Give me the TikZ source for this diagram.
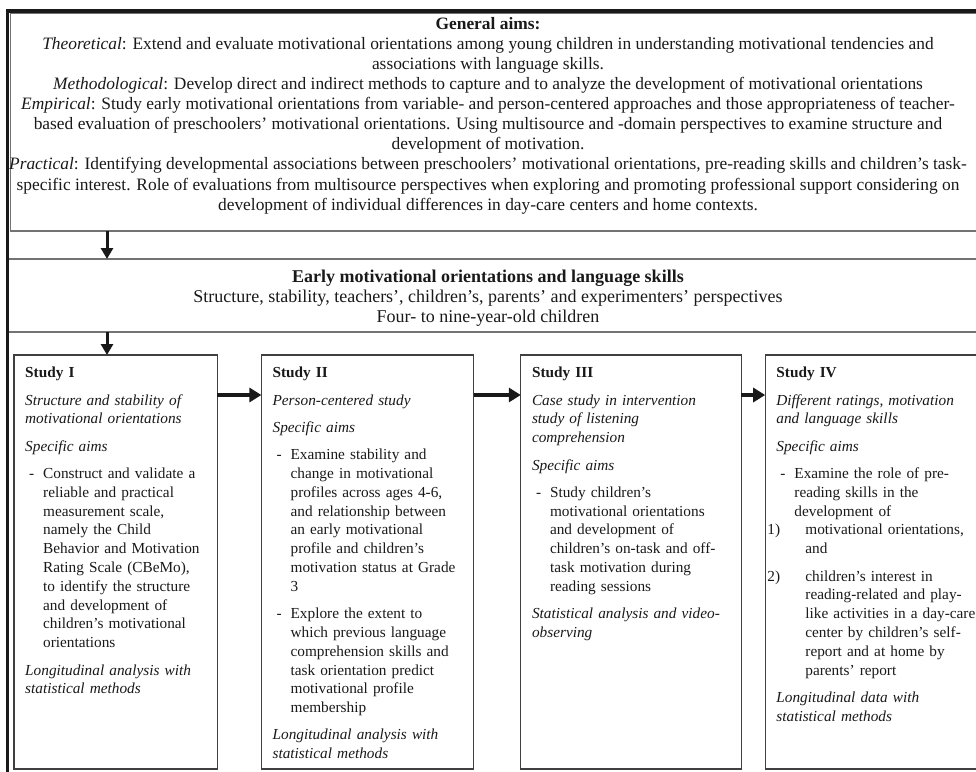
\documentclass[tikz,border=0pt]{standalone}
\usepackage{fontspec}
\setmainfont{Liberation Serif}
\usetikzlibrary{arrows.meta}
\usetikzlibrary{positioning}
\tikzset{
	aimstext/.style={align=center, inner sep=0pt, anchor=north, text=black!90, font=\fontsize{17.4}{20.1}\selectfont},
	studytext/.style={anchor=north west, text width=#1, inner xsep=11pt, inner ysep=12pt, text=black!90,
		font=\fontsize{15.3}{18.8}\selectfont,
		execute at begin node={\setlength{\parskip}{8.5pt}\setlength{\parindent}{0pt}\rightskip=-30pt plus 1fil\relax}},
	studybox/.style={draw=black!75, line width=1.3pt},
	thinrule/.style={draw=black!55, line width=1.3pt},
	thickrule/.style={draw=black!90, line width=3.5pt, line join=miter},
	downarrow/.style={-{Triangle[width=12pt,length=11pt]}, line width=3pt, draw=black!90, fill=black!90},
	sidearrow/.style={-{Triangle[width=14pt,length=12pt]}, line width=4.5pt, draw=black!90, fill=black!90}
}
\newcommand{\dashitem}[1]{\par\hangindent=18pt\hangafter=1\noindent\makebox[18pt][l]{\hspace{4pt}-}#1\par}
\newcommand{\numitem}[2]{\par\hangindent=29pt\hangafter=1\noindent\hspace*{-9pt}\makebox[38pt][l]{#1}#2\par}

\begin{document}
\begin{tikzpicture}[x=1pt,y=-1pt]
	\useasboundingbox (0,0) rectangle (976,771);
	\clip (0,0) rectangle (976,771);
	% frame and rules
	\draw[thickrule] (990,11) -- (7.5,11) -- (7.5,790);
	\draw[thinrule] (990,13.8) -- (10.8,13.8) -- (10.8,231) -- (990,231);
	\draw[thinrule] (9,259) -- (990,259);
	\draw[thinrule] (9,332) -- (990,332);
	\coordinate (aimsfoot) at (107,231);
	\coordinate (earlyhead) at (107,259);
	\coordinate (earlyfoot) at (107,332);
	\coordinate (floor) at (0,769);
	% general aims
	\node[aimstext] (aims) at (488,17) {\textbf{General aims:}\\
		\textit{Theoretical}: Extend and evaluate motivational orientations among young children in understanding motivational tendencies and\\
		associations with language skills.\\
		\textit{Methodological}: Develop direct and indirect methods to capture and to analyze the development of motivational orientations\\
		\textit{Empirical}: Study early motivational orientations from variable- and person-centered approaches and those appropriateness of teacher-\\
		based evaluation of preschoolers’ motivational orientations. Using multisource and -domain perspectives to examine structure and\\
		development of motivation.\\
		\textit{Practical}: Identifying developmental associations between preschoolers’ motivational orientations, pre-reading skills and children’s task-\\
		specific interest. Role of evaluations from multisource perspectives when exploring and promoting professional support considering on\\
		development of individual differences in day-care centers and home contexts.};
	\node[aimstext, font=\fontsize{18}{20.1}\selectfont] (early) at (488,270) {\textbf{Early motivational orientations and language skills}\\
		Structure, stability, teachers’, children’s, parents’ and experimenters’ perspectives\\
		Four- to nine-year-old children};
	% studies
	\node[studytext=181pt] (s1) at (14,355) {\textbf{Study I}\par
		\textit{Structure and stability of\newline motivational orientations}\par
		\textit{Specific aims}
		\dashitem{Construct and validate a\newline reliable and practical\newline measurement scale,\newline namely the Child\newline Behavior and Motivation\newline Rating Scale (CBeMo),\newline to identify the structure\newline and development of\newline children’s motivational\newline orientations}
		\textit{Longitudinal analysis with\newline statistical methods}};
	\node[studytext=190pt, right=44pt of s1.north east, anchor=north west] (s2) {\textbf{Study II}\par
		\textit{Person-centered study}\par
		\textit{Specific aims}
		\dashitem{Examine stability and\newline change in motivational\newline profiles across ages 4-6,\newline and relationship between\newline an early motivational\newline profile and children’s\newline motivation status at Grade\newline 3}
		\dashitem{Explore the extent to\newline which previous language\newline comprehension skills and\newline task orientation predict\newline motivational profile\newline membership}
		\textit{Longitudinal analysis with\newline statistical methods}};
	\node[studytext=198pt, right=47pt of s2.north east, anchor=north west] (s3) {\textbf{Study III}\par
		\textit{Case study in intervention\newline study of listening\newline comprehension}\par
		\textit{Specific aims}
		\dashitem{Study children’s\newline motivational orientations\newline and development of\newline children’s on-task and off-\newline task motivation during\newline reading sessions}
		\textit{Statistical analysis and video-\newline observing}};
	\node[studytext=198pt, right=24pt of s3.north east, anchor=north west] (s4) {\textbf{Study IV}\par
		\textit{Different ratings, motivation\newline and language skills}\par
		\textit{Specific aims}
		\dashitem{Examine the role of pre-\newline reading skills in the\newline development of}
		\vspace{-\parskip}
		\numitem{1)}{motivational orientations,\newline and}
		\numitem{2)}{children’s interest in\newline reading-related and play-\newline like activities in a day-care\newline center by children’s self-\newline report and at home by\newline parents’ report}
		\textit{Longitudinal data with\newline statistical methods}};
	\foreach \s in {s1,s2,s3,s4}
		\draw[studybox] (\s.north west) rectangle (\s.east |- floor);
	% connectors
	\draw[downarrow] (aimsfoot) -- (earlyhead);
	\draw[downarrow] (earlyfoot) -- (earlyfoot |- s1.north);
	\draw[sidearrow] ([yshift=-40pt]s1.north east) -- ([yshift=-40pt]s2.north west);
	\draw[sidearrow] ([yshift=-40pt]s2.north east) -- ([yshift=-40pt]s3.north west);
	\draw[sidearrow] ([yshift=-40pt]s3.north east) -- ([yshift=-40pt]s4.north west);
\end{tikzpicture}
\end{document}
